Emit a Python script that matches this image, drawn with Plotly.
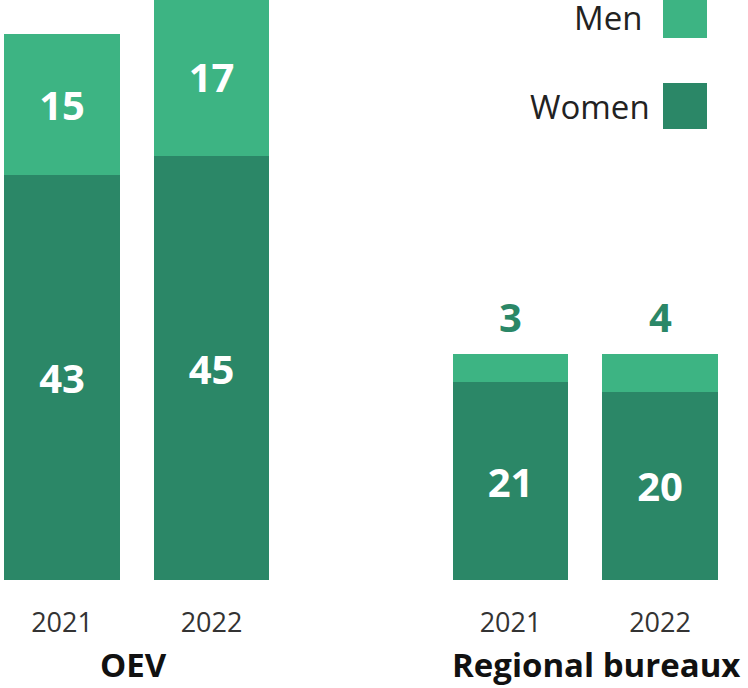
import plotly.graph_objects as go

# ---- data ----
groups = ["OEV", "Regional bureaux"]
years = ["2021", "2022", "2021", "2022"]
x_pos = [0, 1, 3, 4]
group_centers = [0.5, 3.5]
women = [43, 45, 21, 20]
men = [15, 17, 3, 4]

WOMEN_C = "#2b8767"
MEN_C = "#3db483"
FONT = "Open Sans"

men_inside = [str(v) if w > 30 else "" for v, w in zip(men, women)]

fig = go.Figure()
fig.add_trace(go.Bar(
    x=x_pos, y=women, name="Women", marker=dict(color=WOMEN_C, line=dict(width=0)),
    width=0.77, text=[str(v) for v in women], textposition="inside",
    insidetextanchor="middle", textangle=0,
    textfont=dict(family=FONT, size=40, color="white", weight="bold"),
))
fig.add_trace(go.Bar(
    x=x_pos, y=men, name="Men", marker=dict(color=MEN_C, line=dict(width=0)),
    width=0.77, text=men_inside, textposition="inside",
    insidetextanchor="middle", textangle=0,
    textfont=dict(family=FONT, size=40, color="white", weight="bold"),
))

annotations = []
# outside labels for small men values
for x, w, m in zip(x_pos, women, men):
    if w <= 30:
        annotations.append(dict(
            x=x, y=w + m, xref="x", yref="y", text=f"<b>{m}</b>", showarrow=False,
            yanchor="bottom", yshift=8,
            font=dict(family=FONT, size=40, color=WOMEN_C),
        ))
# group labels
for g, c, xs in zip(groups, group_centers, [-3, 11]):
    annotations.append(dict(
        x=c, y=-(664 - 580) / 580, xref="x", yref="paper", text=f"<b>{g}</b>", showarrow=False,
        yanchor="middle", xanchor="center", xshift=xs,
        font=dict(family=FONT, size=33, color="#111111"),
    ))
# legend text
annotations.append(dict(x=643 / 748, y=1 - 18 / 580, xref="paper", yref="paper", text="Men",
                        showarrow=False, xanchor="right", yanchor="middle", borderpad=0,
                        font=dict(family=FONT, size=33, color="#222222")))
annotations.append(dict(x=652 / 748, y=1 - 107 / 580, xref="paper", yref="paper", text="Women",
                        showarrow=False, xanchor="right", yanchor="middle",
                        font=dict(family=FONT, size=33, color="#222222")))

shapes = [
    dict(type="rect", xref="paper", yref="paper", x0=663 / 748, x1=707 / 748,
         y0=1 - 38 / 580, y1=1 + 8 / 580, fillcolor=MEN_C, line=dict(width=0)),
    dict(type="rect", xref="paper", yref="paper", x0=663 / 748, x1=707 / 748,
         y0=1 - 129 / 580, y1=1 - 83 / 580, fillcolor=WOMEN_C, line=dict(width=0)),
]

fig.update_layout(
    width=748, height=688, barmode="stack", showlegend=False,
    margin=dict(l=0, r=0, t=0, b=108),
    paper_bgcolor="white", plot_bgcolor="white",
    annotations=annotations, shapes=shapes,
    xaxis=dict(range=[-62 / 149.5, (748 - 62) / 149.5], tickvals=x_pos, ticktext=years,
               showgrid=False, zeroline=False, showline=False,
               ticks="outside", ticklen=19, tickcolor="rgba(0,0,0,0)",
               tickfont=dict(family=FONT, size=27, color="#333333")),
    yaxis=dict(range=[0, 61.6], visible=False, showgrid=False),
    uniformtext=dict(mode=False),
)

fig.write_html("out.html", config={"displayModeBar": False},
               post_script="document.body.style.margin='0';")
